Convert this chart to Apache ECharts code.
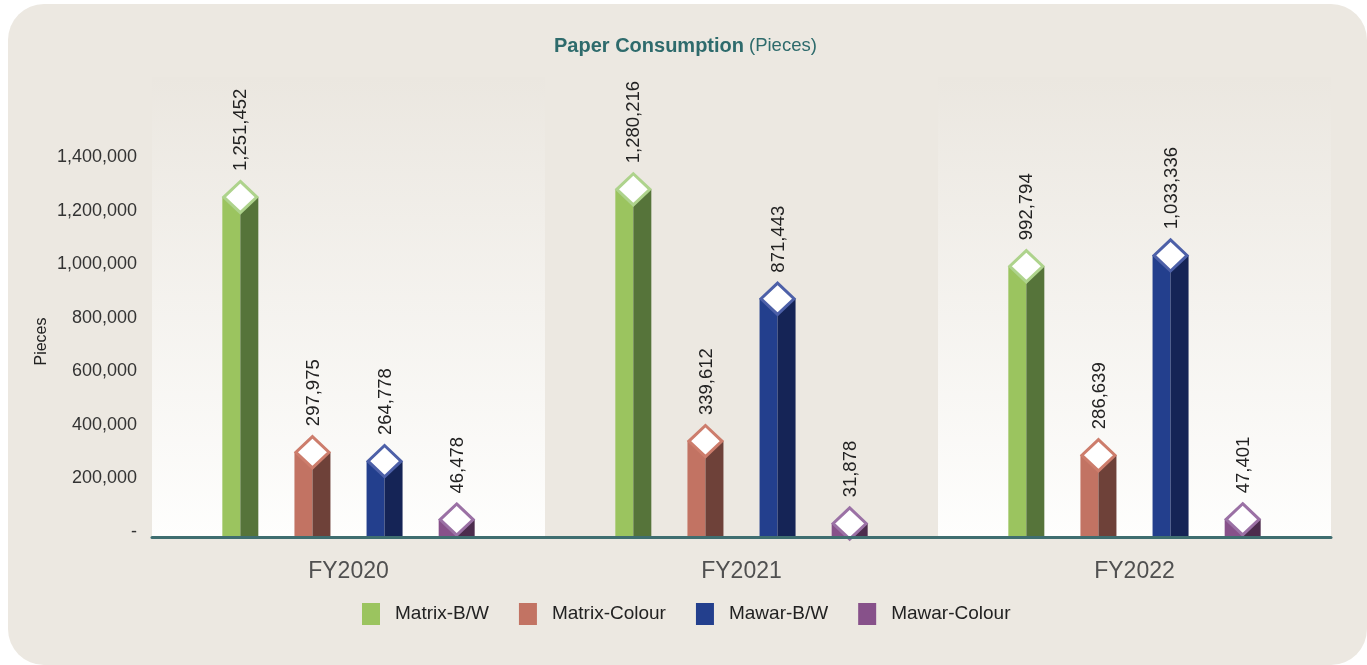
<!DOCTYPE html>
<html>
<head>
<meta charset="utf-8">
<title>Paper Consumption</title>
<script src="https://cdn.jsdelivr.net/npm/echarts@6/dist/echarts.min.js"></script>
<style>
  html, body { margin: 0; padding: 0; background: #ffffff; }
  #chart { width: 1367px; height: 665px; }
</style>
</head>
<body>
<div id="chart"></div>
<script>
// Paper usage per financial year, in pieces
const categories = ['FY2020', 'FY2021', 'FY2022'];
const seriesNames = ['Matrix-B/W', 'Matrix-Colour', 'Mawar-B/W', 'Mawar-Colour'];
const matrixBW = [1251452, 1280216, 992794];
const matrixColour = [297975, 339612, 286639];
const mawarBW = [264778, 871443, 1033336];
const mawarColour = [46478, 31878, 47401];
const yTickMax = 1400000;

const FONT = '"Liberation Sans", Arial, Helvetica, sans-serif';
const BASE_DROP = 5; // the floor line sits a little below the zero value

// front face, side face, diamond outline
const palette = [
  { front: '#9bc45f', side: '#56743a', edge: '#aed38c' },
  { front: '#c27363', side: '#6e4139', edge: '#cd7d6c' },
  { front: '#233f8d', side: '#152456', edge: '#4d60a8' },
  { front: '#87518a', side: '#4c2c4d', edge: '#9b71a5' }
];

const values = [matrixBW, matrixColour, mawarBW, mawarColour];
const fmt = v => v.toLocaleString('en-US');

function barRenderer(si) {
  const col = palette[si];
  return function (params, api) {
    const cat = api.value(0);
    const val = api.value(1);
    const top = api.coord([cat, val]);
    const base = api.coord([cat, 0]);
    const band = api.size([1, 0])[0];
    const step = band * 0.1835;
    const cx = top[0] + (si - 1.5) * step;
    const hw = band * 0.0458;
    const dh = hw * 0.95;
    const ty = top[1];
    const h = Math.max(base[1] + BASE_DROP - ty, 0);
    return {
      type: 'group',
      children: [
        { type: 'rect', shape: { x: cx - hw, y: ty, width: hw, height: h }, style: { fill: col.front } },
        { type: 'rect', shape: { x: cx, y: ty, width: hw, height: h }, style: { fill: col.side } },
        {
          type: 'polygon',
          shape: { points: [[cx, ty - dh + 1.5], [cx + hw - 1.5, ty], [cx, ty + dh - 1.5], [cx - hw + 1.5, ty]] },
          style: { fill: '#ffffff', stroke: col.edge, lineWidth: 3, lineJoin: 'miter' }
        },
        {
          type: 'text',
          x: cx + 1,
          y: ty - dh - 9,
          rotation: Math.PI / 2,
          style: {
            text: fmt(val),
            x: 0, y: 0,
            align: 'left',
            verticalAlign: 'middle',
            fill: '#222222',
            font: '18.5px ' + FONT
          }
        }
      ]
    };
  };
}

// alternating shaded background bands behind the categories
function bandRenderer(params, api) {
  const cat = api.value(0);
  const c = api.coord([cat, 0]);
  const band = api.size([1, 0])[0];
  const cs = params.coordSys;
  return {
    type: 'rect',
    shape: { x: c[0] - band / 2, y: cs.y, width: band, height: cs.height + BASE_DROP },
    style: {
      fill: new echarts.graphic.LinearGradient(0, 0, 0, 1, [
        { offset: 0, color: '#ebe7e0' },
        { offset: 1, color: '#fefefd' }
      ])
    }
  };
}

const chart = echarts.init(document.getElementById('chart'), null, { renderer: 'canvas' });

const series = [{
  type: 'custom',
  name: 'bands',
  renderItem: bandRenderer,
  data: categories.map((c, i) => [i]).filter(d => d[0] % 2 === 0),
  encode: { x: 0 },
  silent: true,
  z: 1
}];

seriesNames.forEach((name, si) => {
  series.push({
    type: 'custom',
    name: name,
    renderItem: barRenderer(si),
    itemStyle: { color: palette[si].front },
    data: values[si].map((v, i) => [i, v]),
    encode: { x: 0, y: 1 },
    z: 3
  });
});

chart.setOption({
  animation: false,
  textStyle: { fontFamily: FONT },
  graphic: [{
    type: 'rect',
    z: -10,
    shape: { x: 8, y: 4, width: 1359, height: 661, r: 36 },
    style: { fill: '#ece8e1' }
  }],
  title: {
    text: '{b|Paper Consumption} {n|(Pieces)}',
    left: 549,
    top: 31,
    textStyle: {
      rich: {
        b: { fontFamily: FONT, fontSize: 20, fontWeight: 'bold', color: '#2e6b6c' },
        n: { fontFamily: FONT, fontSize: 18.5, fontWeight: 'normal', color: '#2e6b6c' }
      }
    }
  },
  legend: {
    data: seriesNames,
    left: 357,
    top: 598,
    icon: 'rect',
    itemWidth: 18,
    itemHeight: 22,
    itemGap: 30,
    textStyle: { fontFamily: FONT, fontSize: 19, color: '#222222', padding: [0, 0, 0, 10] }
  },
  grid: { left: 152, right: 36, top: 77, bottom: 133 },
  xAxis: {
    type: 'category',
    data: categories,
    z: 10,
    offset: BASE_DROP,
    axisLine: { show: true, onZero: false, lineStyle: { color: '#3f6e70', width: 3 } },
    axisTick: { show: false },
    axisLabel: { fontFamily: FONT, fontSize: 23, color: '#505050', margin: 23 },
    splitLine: { show: false }
  },
  yAxis: {
    type: 'value',
    min: 0,
    max: 1700000,
    interval: 200000,
    name: 'Pieces',
    nameLocation: 'middle',
    nameGap: 102,
    nameMoveOverlap: false,
    nameTextStyle: { fontFamily: FONT, fontSize: 16, color: '#222222', padding: [0, 74, 0, 0] },
    axisLine: { show: false },
    axisTick: { show: false },
    splitLine: { show: false },
    axisLabel: {
      fontFamily: FONT,
      fontSize: 18,
      color: '#333333',
      margin: 15,
      formatter: v => (v === 0 ? '-' : (v <= yTickMax ? fmt(v) : ''))
    }
  },
  series: series
});
</script>
</body>
</html>
